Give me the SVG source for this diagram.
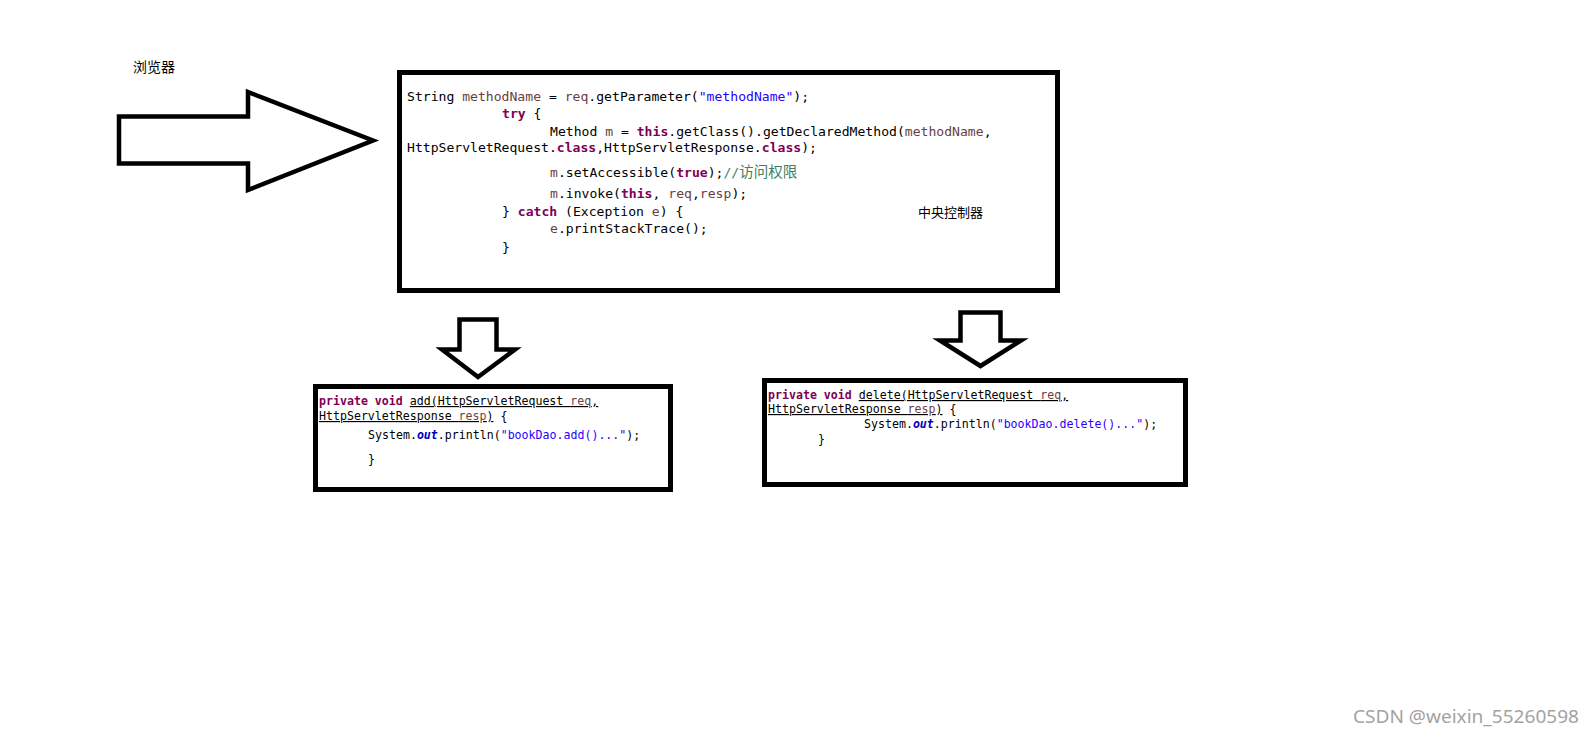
<svg xmlns="http://www.w3.org/2000/svg" width="1594" height="736" viewBox="0 0 1594 736">
<style>
.box{fill:#fff;stroke:#000;stroke-width:5}
.arr{fill:#fff;stroke:#000;stroke-width:4.5;stroke-linejoin:miter}
.code{font-family:"DejaVu Sans Mono","Noto Sans CJK SC",monospace;font-size:13.1px;fill:#000}
.code2{font-family:"DejaVu Sans Mono","Noto Sans CJK SC",monospace;font-size:11.6px;fill:#000}
.kw{fill:#7f0055;font-weight:bold}
.var{fill:#6a3e3e}
.str{fill:#2a00ff}
.fld{fill:#0000c0;font-style:italic;font-weight:bold}
.cmt{fill:#3f7f5f;font-family:"Noto Sans CJK SC",sans-serif;font-size:14.5px}
.lbl{font-family:"Noto Sans CJK SC",sans-serif;fill:#000}
.ul{text-decoration:underline}
</style>
<rect width="1594" height="736" fill="#fff"/>
<g id="connectors">
<polygon class="arr" points="119,116.5 248,116.5 248,92 373,140.5 248,190 248,163.5 119,163.5"/>
<polygon class="arr" points="459.5,319.5 496.5,319.5 496.5,349.5 515,349.5 478,377 442,349.5 459.5,349.5"/>
<polygon class="arr" points="960.5,312.5 1000.5,312.5 1000.5,340.5 1021,340.5 980.5,366 940,340.5 960.5,340.5"/>
</g>
<g id="browser">
<text class="lbl" x="133" y="72" font-size="14">浏览器</text>
</g>
<g id="controller">
<rect class="box" x="399.5" y="72.5" width="658" height="218"/>
<text class="code" x="407" y="101" xml:space="preserve">String <tspan class="var">methodName</tspan> = <tspan class="var">req</tspan>.getParameter(<tspan class="str">"methodName"</tspan>);</text>
<text class="code" x="502" y="118" xml:space="preserve"><tspan class="kw">try</tspan> {</text>
<text class="code" x="550" y="136" xml:space="preserve">Method <tspan class="var">m</tspan> = <tspan class="kw">this</tspan>.getClass().getDeclaredMethod(<tspan class="var">methodName</tspan>,</text>
<text class="code" x="407" y="152" xml:space="preserve">HttpServletRequest.<tspan class="kw">class</tspan>,HttpServletResponse.<tspan class="kw">class</tspan>);</text>
<text class="code" x="550" y="177" xml:space="preserve"><tspan class="var">m</tspan>.setAccessible(<tspan class="kw">true</tspan>);<tspan fill="#3f7f5f">//</tspan><tspan class="cmt">访问权限</tspan></text>
<text class="code" x="550" y="198" xml:space="preserve"><tspan class="var">m</tspan>.invoke(<tspan class="kw">this</tspan>, <tspan class="var">req</tspan>,<tspan class="var">resp</tspan>);</text>
<text class="code" x="502" y="216" xml:space="preserve">} <tspan class="kw">catch</tspan> (Exception <tspan class="var">e</tspan>) {</text>
<text class="code" x="550" y="233" xml:space="preserve"><tspan class="var">e</tspan>.printStackTrace();</text>
<text class="code" x="502" y="252" xml:space="preserve">}</text>
<text class="lbl" x="918" y="217" font-size="13">中央控制器</text>
</g>
<g id="add">
<rect class="box" x="315.5" y="386.5" width="355" height="103"/>
<text class="code2" x="319" y="405" xml:space="preserve"><tspan class="kw" font-weight="normal">private</tspan> <tspan class="kw" font-weight="normal">void</tspan> <tspan class="ul">add(HttpServletRequest <tspan class="var">req</tspan>,</tspan></text>
<text class="code2" x="319" y="420" xml:space="preserve"><tspan class="ul">HttpServletResponse <tspan class="var">resp</tspan>)</tspan> {</text>
<text class="code2" x="368" y="439" xml:space="preserve">System.<tspan class="fld">out</tspan>.println(<tspan class="str">"bookDao.add()..."</tspan>);</text>
<text class="code2" x="368" y="463" xml:space="preserve">}</text>
</g>
<g id="delete">
<rect class="box" x="764.5" y="380.5" width="421" height="104"/>
<text class="code2" x="768" y="399" xml:space="preserve"><tspan class="kw" font-weight="normal">private</tspan> <tspan class="kw" font-weight="normal">void</tspan> <tspan class="ul">delete(HttpServletRequest <tspan class="var">req</tspan>,</tspan></text>
<text class="code2" x="768" y="413" xml:space="preserve"><tspan class="ul">HttpServletResponse <tspan class="var">resp</tspan>)</tspan> {</text>
<text class="code2" x="864" y="428" xml:space="preserve">System.<tspan class="fld">out</tspan>.println(<tspan class="str">"bookDao.delete()..."</tspan>);</text>
<text class="code2" x="818" y="443" xml:space="preserve">}</text>
</g>
<text x="1353" y="723" font-family="'Noto Sans',sans-serif" font-size="18" fill="#a3a3a3" textLength="226" lengthAdjust="spacingAndGlyphs">CSDN @weixin_55260598</text>
</svg>
